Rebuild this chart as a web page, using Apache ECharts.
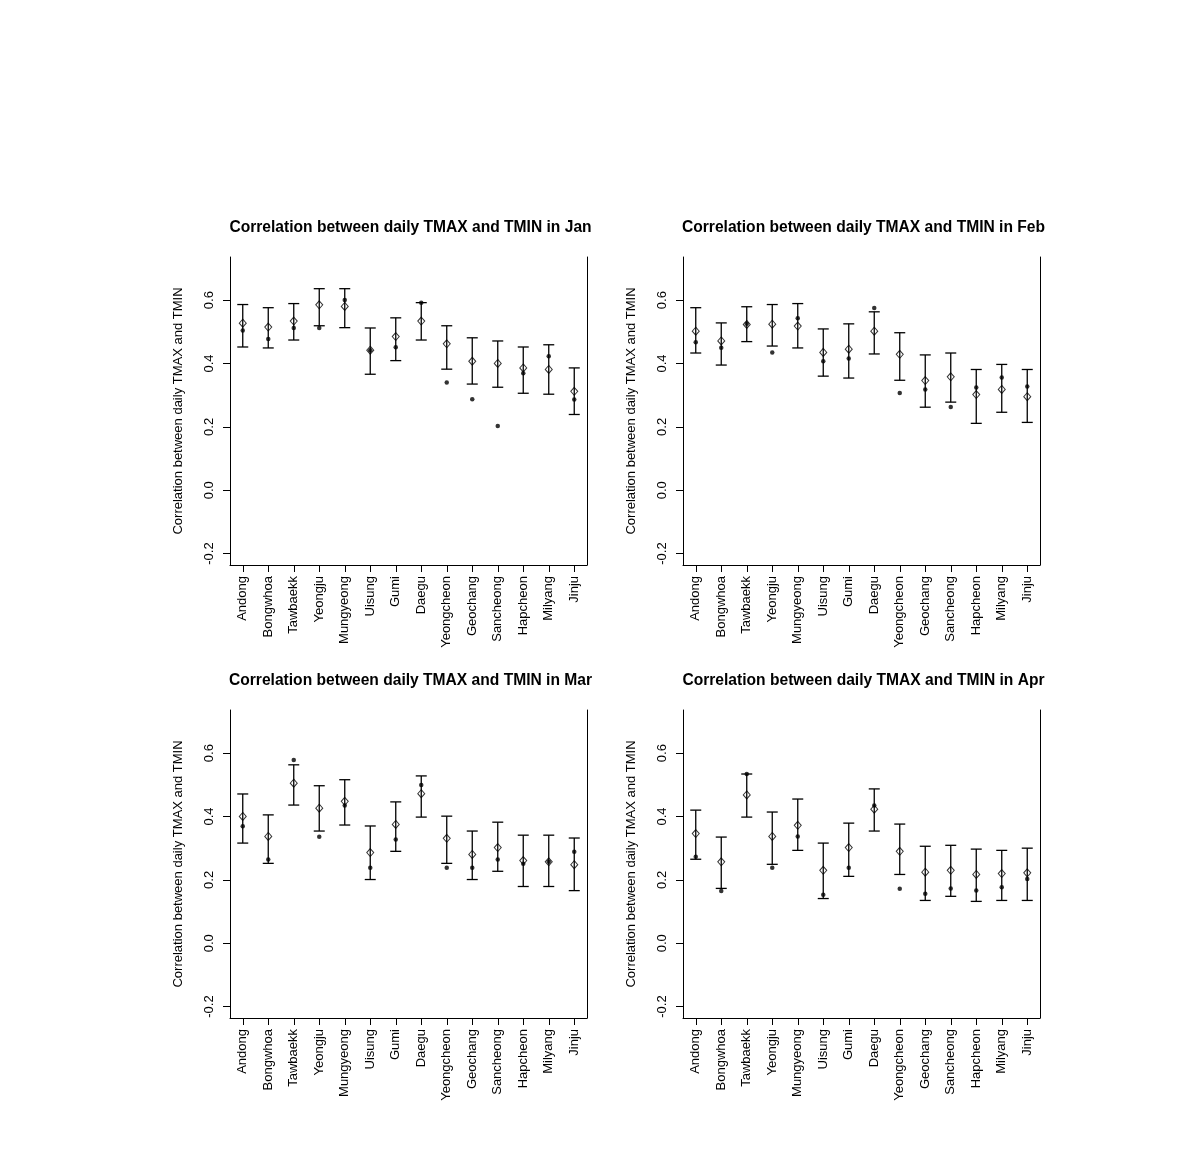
<!DOCTYPE html>
<html>
<head>
<meta charset="utf-8">
<script src="https://cdn.jsdelivr.net/npm/echarts@6/dist/echarts.min.js"></script>
<style>
html,body{margin:0;padding:0;background:#fff;}
#chart{width:1190px;height:1159px;}
</style>
</head>
<body>
<div id="chart"></div>
<script>
const stations = ['Andong','Bongwhoa','Tawbaekk','Yeongju','Mungyeong','Uisung','Gumi','Daegu','Yeongcheon','Geochang','Sancheong','Hapcheon','Milyang','Jinju'];
const months = ['Jan','Feb','Mar','Apr'];
const yTicks = [-0.2, 0.0, 0.2, 0.4, 0.6];

// Jan
const janHi   = [0.586,0.576,0.589,0.636,0.636,0.512,0.544,0.592,0.519,0.481,0.471,0.452,0.459,0.386];
const janLo   = [0.452,0.449,0.474,0.519,0.513,0.366,0.409,0.474,0.382,0.335,0.325,0.306,0.303,0.239];
const janMean = [0.527,0.515,0.534,0.585,0.580,0.442,0.485,0.534,0.462,0.407,0.400,0.386,0.381,0.312];
const janObs  = [0.504,0.477,0.512,0.512,0.600,0.442,0.451,0.592,0.340,0.287,0.203,0.369,0.423,0.286];
// Feb
const febHi   = [0.576,0.528,0.579,0.586,0.589,0.509,0.525,0.563,0.497,0.427,0.433,0.381,0.397,0.381];
const febLo   = [0.433,0.395,0.469,0.455,0.449,0.360,0.354,0.430,0.347,0.262,0.278,0.211,0.246,0.214];
const febMean = [0.502,0.471,0.523,0.524,0.518,0.435,0.445,0.502,0.429,0.346,0.358,0.302,0.318,0.295];
const febObs  = [0.467,0.450,0.525,0.435,0.543,0.407,0.416,0.575,0.307,0.318,0.263,0.324,0.356,0.327];
// Mar
const marHi   = [0.471,0.405,0.563,0.497,0.516,0.370,0.446,0.528,0.401,0.354,0.382,0.341,0.341,0.332];
const marLo   = [0.316,0.252,0.436,0.354,0.373,0.201,0.290,0.398,0.252,0.201,0.227,0.179,0.179,0.166];
const marMean = [0.400,0.337,0.505,0.426,0.448,0.286,0.375,0.472,0.331,0.280,0.302,0.261,0.257,0.248];
const marObs  = [0.369,0.264,0.578,0.336,0.435,0.238,0.327,0.499,0.238,0.238,0.264,0.251,0.257,0.289];
// Apr
const aprHi   = [0.420,0.335,0.534,0.414,0.455,0.316,0.379,0.487,0.376,0.306,0.309,0.297,0.293,0.300];
const aprLo   = [0.265,0.173,0.398,0.249,0.293,0.141,0.211,0.354,0.217,0.135,0.148,0.132,0.135,0.135];
const aprMean = [0.346,0.257,0.468,0.337,0.372,0.230,0.302,0.423,0.290,0.224,0.230,0.217,0.220,0.222];
const aprObs  = [0.273,0.165,0.534,0.238,0.337,0.153,0.238,0.435,0.172,0.156,0.173,0.166,0.177,0.203];

const panels = [
  {hi: janHi, lo: janLo, mean: janMean, obs: janObs},
  {hi: febHi, lo: febLo, mean: febMean, obs: febObs},
  {hi: marHi, lo: marLo, mean: marMean, obs: marObs},
  {hi: aprHi, lo: aprLo, mean: aprMean, obs: aprObs}
];

const FONT = 'Liberation Sans, Arial, sans-serif';
const gridPos = [
  {left: 230, top: 257},
  {left: 683, top: 257},
  {left: 230, top: 710},
  {left: 683, top: 710}
];
const GW = 357, GH = 308;
const YMIN = -0.236, YMAX = 0.736;

const grids = [], xAxes = [], yAxes = [], series = [], titles = [];

function renderErr(params, api) {
  const x = api.value(0), lo = api.value(1), hi = api.value(2);
  const a = api.coord([x, lo]), b = api.coord([x, hi]);
  const w = 5.5;
  const st = {stroke: '#000', lineWidth: 1.3};
  return {type: 'group', children: [
    {type: 'line', shape: {x1: a[0], y1: a[1], x2: b[0], y2: b[1]}, style: st},
    {type: 'line', shape: {x1: a[0]-w, y1: a[1], x2: a[0]+w, y2: a[1]}, style: st},
    {type: 'line', shape: {x1: b[0]-w, y1: b[1], x2: b[0]+w, y2: b[1]}, style: st}
  ]};
}

panels.forEach((p, k) => {
  const g = gridPos[k];
  grids.push({left: g.left, top: g.top, width: GW, height: GH, containLabel: false});
  titles.push({
    text: 'Correlation between daily TMAX and TMIN in ' + months[k],
    left: g.left + GW / 2 - 3, top: g.top - 42, textAlign: 'center',
    textStyle: {fontFamily: FONT, fontSize: 15.6, fontWeight: 'bold', color: '#000'}
  });
  xAxes.push({
    type: 'category', gridIndex: k, data: stations, boundaryGap: true, position: 'bottom',
    axisLine: {show: true, onZero: false, lineStyle: {color: '#000', width: 1}},
    axisTick: {show: true, alignWithLabel: true, length: 7, lineStyle: {color: '#000'}},
    axisLabel: {interval: 0, rotate: 90, margin: 11, fontFamily: FONT, fontSize: 13, color: '#000'},
    splitLine: {show: false}
  });
  yAxes.push({
    type: 'value', gridIndex: k, min: YMIN, max: YMAX, position: 'left',
    name: 'Correlation between daily TMAX and TMIN', nameLocation: 'middle', nameGap: 45,
    nameTextStyle: {fontFamily: FONT, fontSize: 13, color: '#000'},
    axisLine: {show: true, onZero: false, lineStyle: {color: '#000', width: 1}},
    axisTick: {show: true, length: 7, customValues: yTicks, lineStyle: {color: '#000'}},
    axisLabel: {rotate: 90, margin: 14, customValues: yTicks, fontFamily: FONT, fontSize: 13, color: '#000',
      formatter: v => Number(v).toFixed(1)},
    splitLine: {show: false}
  });
  yAxes.push({
    type: 'value', gridIndex: k, min: YMIN, max: YMAX, position: 'right',
    axisLine: {show: true, onZero: false, lineStyle: {color: '#000', width: 1}},
    axisTick: {show: false}, axisLabel: {show: false}, splitLine: {show: false}
  });
  const yi = k * 2;
  series.push({
    type: 'custom', xAxisIndex: k, yAxisIndex: yi, renderItem: renderErr,
    encode: {x: 0, y: [1, 2]}, silent: true, z: 2,
    data: stations.map((s, i) => [i, p.lo[i], p.hi[i]])
  });
  series.push({
    type: 'scatter', xAxisIndex: k, yAxisIndex: yi, symbol: 'diamond', symbolSize: [7, 8], z: 3,
    itemStyle: {color: 'rgba(255,255,255,0)', borderColor: '#000', borderWidth: 1},
    data: stations.map((s, i) => [i, p.mean[i]]), silent: true
  });
  series.push({
    type: 'scatter', xAxisIndex: k, yAxisIndex: yi, symbol: 'circle', symbolSize: 4.5, z: 4,
    itemStyle: {color: '#000'},
    data: stations.map((s, i) => [i, p.obs[i]]), silent: true
  });
});

const chart = echarts.init(document.getElementById('chart'), null, {renderer: 'canvas'});
chart.setOption({
  backgroundColor: '#fff',
  animation: false,
  title: titles,
  grid: grids,
  xAxis: xAxes,
  yAxis: yAxes,
  series: series
});
</script>
</body>
</html>
